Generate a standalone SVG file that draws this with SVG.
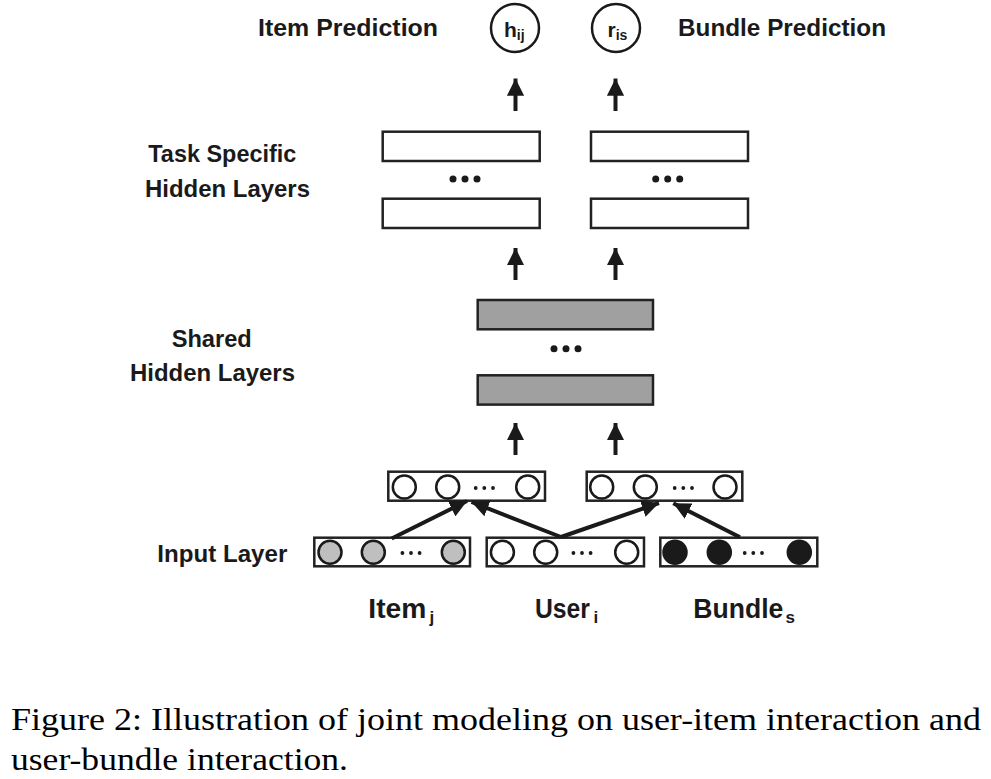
<svg xmlns="http://www.w3.org/2000/svg" width="991" height="779" viewBox="0 0 991 779">
<style>
.lbl{font-family:"Liberation Sans",Arial,sans-serif;font-weight:bold;fill:#1a1a1a;}
.box{fill:#fff;stroke:#222;stroke-width:2.5;}
.sh{fill:#a0a0a0;stroke:#222;stroke-width:2.5;}
.c{fill:#fff;stroke:#1a1a1a;stroke-width:2.5;}
.cg{fill:#bfbfbf;stroke:#1a1a1a;stroke-width:2.5;}
.cb{fill:#1a1a1a;stroke:#1a1a1a;stroke-width:2.5;}
.d{fill:#1a1a1a;}
.arr{stroke:#1a1a1a;stroke-width:4;fill:none;marker-end:url(#ah);}
.cap{font-family:"Liberation Serif",serif;font-size:32.5px;fill:#000;}
</style>
<defs>
<marker id="ah" viewBox="0 0 10 10" refX="10" refY="5" markerWidth="4.3" markerHeight="4.3" markerUnits="strokeWidth" orient="auto">
<path d="M0,0 L10,5 L0,10 Z" fill="#1a1a1a"/>
</marker>
</defs>
<rect width="991" height="779" fill="#fff"/>

<g id="labels">
<text class="lbl" x="258" y="36" font-size="24.5" textLength="180" lengthAdjust="spacingAndGlyphs">Item Prediction</text>
<text class="lbl" x="678" y="36" font-size="24.5" textLength="208" lengthAdjust="spacingAndGlyphs">Bundle Prediction</text>
<text class="lbl" x="148.3" y="161.7" font-size="24" textLength="148" lengthAdjust="spacingAndGlyphs">Task Specific</text>
<text class="lbl" x="145" y="196.7" font-size="24" textLength="165" lengthAdjust="spacingAndGlyphs">Hidden Layers</text>
<text class="lbl" x="171.7" y="346.7" font-size="24" textLength="80" lengthAdjust="spacingAndGlyphs">Shared</text>
<text class="lbl" x="130" y="381" font-size="24" textLength="165" lengthAdjust="spacingAndGlyphs">Hidden Layers</text>
<text class="lbl" x="157.3" y="562.3" font-size="24" textLength="130" lengthAdjust="spacingAndGlyphs">Input Layer</text>
</g>

<g id="out-item">
<circle class="c" cx="515" cy="28" r="24"/>
<text class="lbl" x="504" y="37.3" font-size="21">h<tspan font-size="14" dy="3">ij</tspan></text>
</g>
<g id="out-bundle">
<circle class="c" cx="616" cy="28" r="24"/>
<text class="lbl" x="607.5" y="37.3" font-size="21">r<tspan font-size="14" dy="3">is</tspan></text>
</g>

<g id="task-item">
<rect class="box" x="382.7" y="131.7" width="157" height="29.3"/>
<circle class="d" cx="453" cy="179" r="3.5"/><circle class="d" cx="465" cy="179" r="3.5"/><circle class="d" cx="477" cy="179" r="3.5"/>
<rect class="box" x="382.7" y="198.7" width="157" height="29.3"/>
</g>
<g id="task-bundle">
<rect class="box" x="591" y="131.7" width="157" height="29.3"/>
<circle class="d" cx="655.7" cy="179" r="3.5"/><circle class="d" cx="667.7" cy="179" r="3.5"/><circle class="d" cx="679.7" cy="179" r="3.5"/>
<rect class="box" x="591" y="198.7" width="157" height="29.3"/>
</g>

<g id="shared">
<rect class="sh" x="477.7" y="300" width="175.3" height="29.3"/>
<circle class="d" cx="554" cy="348.7" r="3.5"/><circle class="d" cx="566" cy="348.7" r="3.5"/><circle class="d" cx="578" cy="348.7" r="3.5"/>
<rect class="sh" x="477.7" y="375.3" width="175.3" height="29.3"/>
</g>

<g id="emb-item">
<rect class="box" x="388.3" y="471.7" width="156.7" height="29"/>
<circle class="c" cx="404.3" cy="487" r="11.5"/>
<circle class="c" cx="447.7" cy="487" r="11.5"/>
<circle class="d" cx="475.7" cy="488" r="1.9"/><circle class="d" cx="484.3" cy="488" r="1.9"/><circle class="d" cx="493" cy="488" r="1.9"/>
<circle class="c" cx="527.7" cy="487" r="11.5"/>
</g>
<g id="emb-bundle">
<rect class="box" x="586.7" y="471.7" width="155.6" height="29"/>
<circle class="c" cx="601.7" cy="487" r="11.5"/>
<circle class="c" cx="645.3" cy="487" r="11.5"/>
<circle class="d" cx="674.7" cy="488" r="1.9"/><circle class="d" cx="683.3" cy="488" r="1.9"/><circle class="d" cx="692" cy="488" r="1.9"/>
<circle class="c" cx="725" cy="487" r="11.5"/>
</g>

<g id="input-item">
<rect class="box" x="314.3" y="537.7" width="155.7" height="28.6"/>
<circle class="cg" cx="330" cy="552.3" r="11.5"/>
<circle class="cg" cx="373.3" cy="552.3" r="11.5"/>
<circle class="d" cx="402.4" cy="553" r="1.9"/><circle class="d" cx="411" cy="553" r="1.9"/><circle class="d" cx="419.6" cy="553" r="1.9"/>
<circle class="cg" cx="453.3" cy="552.3" r="11.5"/>
<text class="lbl" x="368.3" y="618.3" font-size="28"><tspan textLength="58" lengthAdjust="spacingAndGlyphs">Item</tspan><tspan x="429.5" dy="5" font-size="17">j</tspan></text>
</g>
<g id="input-user">
<rect class="box" x="486.7" y="537.7" width="157.3" height="28.6"/>
<circle class="c" cx="502.4" cy="552.3" r="11.5"/>
<circle class="c" cx="545.7" cy="552.3" r="11.5"/>
<circle class="d" cx="573.4" cy="553" r="1.9"/><circle class="d" cx="582" cy="553" r="1.9"/><circle class="d" cx="590.6" cy="553" r="1.9"/>
<circle class="c" cx="626.7" cy="552.3" r="11.5"/>
<text class="lbl" x="535" y="618.3" font-size="27"><tspan textLength="55" lengthAdjust="spacingAndGlyphs">User</tspan><tspan x="593.5" dy="5" font-size="17">i</tspan></text>
</g>
<g id="input-bundle">
<rect class="box" x="660.3" y="537.7" width="157" height="28.6"/>
<circle class="cb" cx="675" cy="552.3" r="11.5"/>
<circle class="cb" cx="719.3" cy="552.3" r="11.5"/>
<circle class="d" cx="744.7" cy="553" r="1.9"/><circle class="d" cx="753.3" cy="553" r="1.9"/><circle class="d" cx="762" cy="553" r="1.9"/>
<circle class="cb" cx="799.3" cy="552.3" r="11.5"/>
<text class="lbl" x="693.3" y="618.3" font-size="27"><tspan textLength="90" lengthAdjust="spacingAndGlyphs">Bundle</tspan><tspan x="785.5" dy="5" font-size="17">s</tspan></text>
</g>

<g id="connectors">
<line class="arr" x1="515.5" y1="111" x2="515.5" y2="78.5"/>
<line class="arr" x1="615.5" y1="111" x2="615.5" y2="78.5"/>
<line class="arr" x1="515.5" y1="280" x2="515.5" y2="248"/>
<line class="arr" x1="615.5" y1="280" x2="615.5" y2="248"/>
<line class="arr" x1="515.5" y1="455" x2="515.5" y2="423"/>
<line class="arr" x1="615.5" y1="455" x2="615.5" y2="423"/>
<line class="arr" x1="391.7" y1="538.5" x2="467" y2="501"/>
<line class="arr" x1="561" y1="537" x2="471.5" y2="502"/>
<line class="arr" x1="561" y1="537" x2="659" y2="503"/>
<line class="arr" x1="740" y1="537.3" x2="673.3" y2="503.3"/>
</g>

<g id="caption">
<text class="cap" x="11" y="730" textLength="970" lengthAdjust="spacingAndGlyphs">Figure 2: Illustration of joint modeling on user-item interaction and</text>
<text class="cap" x="11" y="770" textLength="337" lengthAdjust="spacingAndGlyphs">user-bundle interaction.</text>
</g>
</svg>
